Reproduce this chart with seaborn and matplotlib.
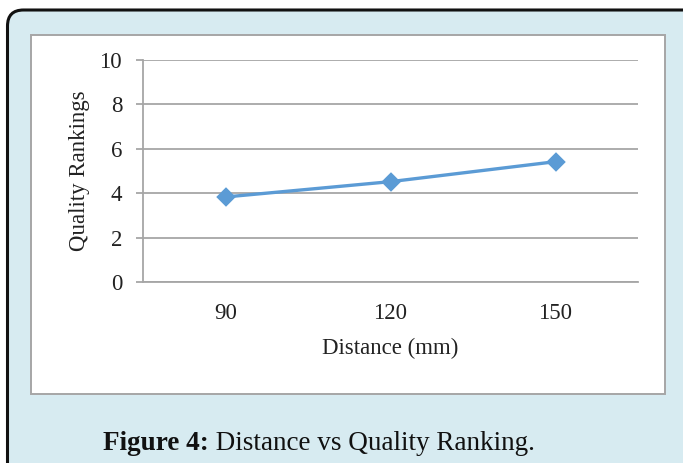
import matplotlib
matplotlib.use("Agg")
import matplotlib.pyplot as plt
from matplotlib.patches import FancyBboxPatch, Rectangle
import seaborn as sns
import pandas as pd

distance = ["90", "120", "150"]
quality = [3.83, 4.52, 5.42]
y_ticks = [0, 2, 4, 6, 8, 10]
x_label = "Distance (mm)"
y_label = "Quality Rankings"
caption_bold = "Figure 4:"
caption_rest = " Distance vs Quality Ranking."

sns.set_theme(style="white")
plt.rcParams["font.family"] = ["Liberation Serif", "DejaVu Serif"]

W, H = 683, 463
fig = plt.figure(figsize=(W / 100, H / 100), dpi=100)
fig.patch.set_facecolor("white")

# background frame axes in pixel coordinates
bg = fig.add_axes([0, 0, 1, 1])
bg.set_xlim(0, W)
bg.set_ylim(H, 0)
bg.axis("off")
outer = FancyBboxPatch((7.5, 10), 700, 470,
                       boxstyle="round,pad=0,rounding_size=16",
                       facecolor="#d7ebf1", edgecolor="#111111", linewidth=2.2)
bg.add_patch(outer)
bg.add_patch(Rectangle((31, 34.5), 634, 359, facecolor="white",
                       edgecolor="#a6a6a6", linewidth=1.4))

t1 = bg.text(103, 450, caption_bold, fontsize=19.5, fontweight="bold",
             color="#111111", va="baseline", ha="left")
bg.annotate(caption_rest, xy=(1, 0), xycoords=t1, va="bottom", ha="left",
            fontsize=19.5, color="#111111")

# chart axes
left, right, top, bottom = 143, 638, 60, 282
ax = fig.add_axes([left / W, (H - bottom) / H, (right - left) / W, (bottom - top) / H])
ax.set_facecolor("none")

df = pd.DataFrame({"Distance": distance, "Quality": quality})
sns.pointplot(data=df, x="Distance", y="Quality", order=distance, ax=ax,
              color="#5b9bd5", markers="D", errorbar=None,
              linewidth=2.4, markersize=8.5)

ax.set_xlim(-0.5, len(distance) - 0.5)
ax.set_ylim(0, 10)
ax.set_yticks(y_ticks)
ax.yaxis.grid(True, color="#a6a6a6", linewidth=1.3)
ax.xaxis.grid(False)
ax.set_axisbelow(True)
for s in ["top", "right"]:
    ax.spines[s].set_visible(False)
ax.spines["left"].set_color("#a6a6a6")
ax.spines["left"].set_linewidth(1.3)
ax.spines["bottom"].set_color("#a6a6a6")
ax.spines["bottom"].set_linewidth(1.3)

ax.tick_params(axis="y", which="both", left=True, length=5, width=1.3,
               color="#a6a6a6", pad=10, labelsize=16.5, labelcolor="#222222")
ax.tick_params(axis="x", which="both", bottom=False, length=0, pad=15,
               labelsize=16.5, labelcolor="#222222")

ax.set_xlabel(x_label, fontsize=16.5, color="#222222", labelpad=10)
ax.set_ylabel(y_label, fontsize=16.5, color="#222222", labelpad=7)

fig.savefig("out.png", dpi=100, facecolor="white")
